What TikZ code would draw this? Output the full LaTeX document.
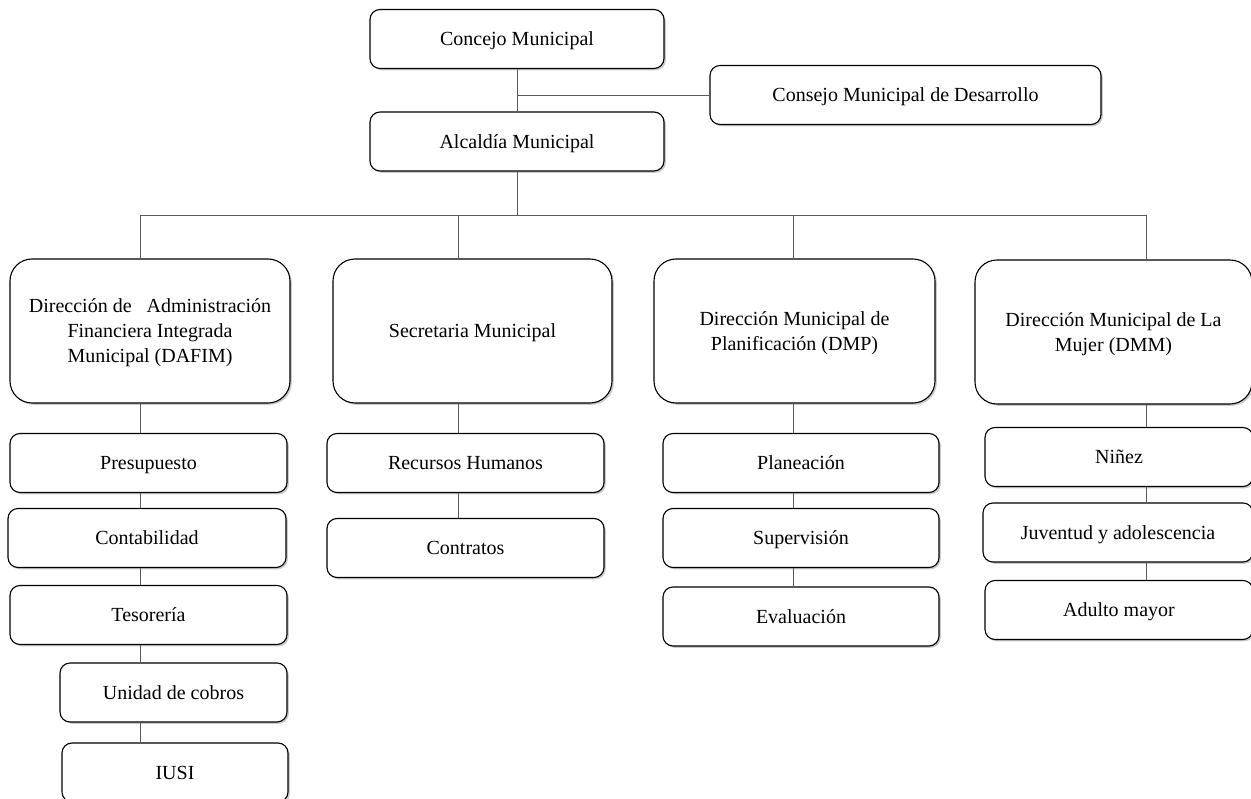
\documentclass[tikz,border=0pt]{standalone}
\usepackage{fontspec}
\setmainfont{Liberation Serif}
\usetikzlibrary{shadows}

\tikzset{
  caja/.style={draw=black, line width=1.1pt, rounded corners=10pt, fill=white,
    minimum height=59pt, inner sep=0pt, align=center, text depth=0pt,
    font=\fontsize{20}{25}\selectfont,
    drop shadow={shadow xshift=1.8pt, shadow yshift=-1.8pt, opacity=0.35, fill=black!60}},
  cajagrande/.style={caja, rounded corners=22pt, minimum height=144pt},
  linea/.style={draw=black!65, line width=0.9pt}
}

\begin{document}
\begin{tikzpicture}[x=1pt,y=-1pt]
	\def\BUS{215}
	\useasboundingbox (0,0) rectangle (1251,799);

	%niveles superiores
	\node [caja, minimum width=294pt] (concejo) at (517,39) {Concejo Municipal};
	\node [caja, minimum width=294pt] (alcaldia) at (517,141.5) {Alcaldía Municipal};
	\node [caja, minimum width=391pt] (consejo) at (905.5,95) {Consejo Municipal de Desarrollo};

	%direcciones
	\node [cajagrande, minimum width=280pt] (dafim) at (150,331)
		{Dirección de\hspace{10pt} Administración\\Financiera Integrada\\Municipal (DAFIM)};
	\node [cajagrande, minimum width=279pt] (secretaria) at (472.5,331) {Secretaria Municipal};
	\node [cajagrande, minimum width=281pt] (dmp) at (794.5,331)
		{Dirección Municipal de\\Planificación (DMP)};
	\node [cajagrande, minimum width=277pt] (dmm) at (1113.5,332)
		{Dirección Municipal de La\\Mujer (DMM)};

	%unidades
	\node [caja, minimum width=277pt] (presupuesto) at (148.5,463) {Presupuesto};
	\node [caja, minimum width=278pt] (contabilidad) at (147,538) {Contabilidad};
	\node [caja, minimum width=277pt] (tesoreria) at (148.5,615) {Tesorería};
	\node [caja, minimum width=227pt] (cobros) at (173.5,692.5) {Unidad de cobros};
	\node [caja, minimum width=226pt] (iusi) at (175,772.5) {IUSI};

	\node [caja, minimum width=277pt] (rrhh) at (465.5,463) {Recursos Humanos};
	\node [caja, minimum width=277pt] (contratos) at (465.5,548) {Contratos};

	\node [caja, minimum width=276pt] (planeacion) at (801,463) {Planeación};
	\node [caja, minimum width=276pt] (supervision) at (801,538) {Supervisión};
	\node [caja, minimum width=276pt] (evaluacion) at (801,616.5) {Evaluación};

	\node [caja, minimum width=268pt] (ninez) at (1119,457) {Niñez};
	\node [caja, minimum width=270pt] (juventud) at (1118,532.5) {Juventud y adolescencia};
	\node [caja, minimum width=268pt] (adulto) at (1119,610) {Adulto mayor};

	%conectores
	\draw [linea] (concejo) -- (alcaldia);
	\draw [linea] (concejo.south |- consejo.west) -- (consejo.west);

	\coordinate (c1) at (140,\BUS);
	\coordinate (c2) at (458,\BUS);
	\coordinate (c3) at (793,\BUS);
	\coordinate (c4) at (1146,\BUS);
	\draw [linea] (alcaldia.south) -- (alcaldia.south |- c1);
	\draw [linea] (c1) -- (c4);
	\foreach \c/\n in {c1/dafim,c2/secretaria,c3/dmp,c4/dmm}
		\draw [linea] (\c) -- (\c |- \n.north);

	\foreach \c/\a/\b in {c1/dafim/presupuesto, c1/presupuesto/contabilidad,
			c1/contabilidad/tesoreria, c1/tesoreria/cobros, c1/cobros/iusi,
			c2/secretaria/rrhh, c2/rrhh/contratos,
			c3/dmp/planeacion, c3/planeacion/supervision, c3/supervision/evaluacion,
			c4/dmm/ninez, c4/ninez/juventud, c4/juventud/adulto}
		\draw [linea] (\c |- \a.south) -- (\c |- \b.north);

\end{tikzpicture}
\end{document}
